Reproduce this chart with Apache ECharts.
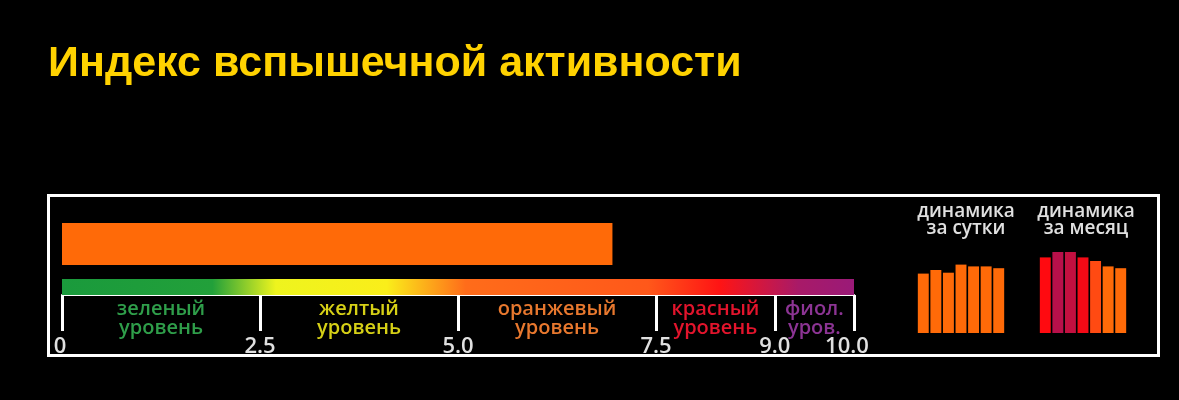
<!DOCTYPE html>
<html><head><meta charset="utf-8">
<script src="https://cdn.jsdelivr.net/npm/echarts@6/dist/echarts.min.js"></script>
<style>html,body{margin:0;padding:0;background:#000;}#c{width:1179px;height:400px;}</style>
</head><body><div id="c"></div>
<script>
// ---- data ----
const titleText = 'Индекс вспышечной активности';
const currentIndex = [6.95];
const scaleMax = [10];
const tickValues = [0, 2.5, 5, 7.5, 9, 10];
const tickLabels = ['0', '2.5', '5.0', '7.5', '9.0', '10.0'];
const levelCenters = [1.25, 3.75, 6.25, 8.25, 9.5];
const levelNames = ['зеленый\nуровень', 'желтый\nуровень', 'оранжевый\nуровень', 'красный\nуровень', 'фиол.\nуров.'];
const levelColors = ['#2f9e4a', '#d6d016', '#e8782e', '#e2142c', '#8c3494'];
const dayTitle = 'динамика\nза сутки';
const monthTitle = 'динамика\nза месяц';
const dayCats = ['1', '2', '3', '4', '5', '6', '7'];
const dayValues = [6.6, 7.0, 6.7, 7.6, 7.4, 7.4, 7.2];
const monthCats = ['1', '2', '3', '4', '5', '6', '7'];
const monthValues = [8.4, 9.0, 9.0, 8.4, 8.0, 7.4, 7.2];
const monthColors = ['#ff0a10', '#b8104a', '#c21040', '#f40a16', '#ff4a12', '#ff6a08', '#ff6a08'];

const chart = echarts.init(document.getElementById('c'), null, {renderer: 'canvas'});
const font = '"Open Sans", sans-serif';
const gradient = new echarts.graphic.LinearGradient(0, 0, 1, 0, [
  {offset: 0, color: '#1a9a3c'},
  {offset: 0.19, color: '#22a03a'},
  {offset: 0.27, color: '#eef41e'},
  {offset: 0.41, color: '#faee1a'},
  {offset: 0.51, color: '#ff6c1a'},
  {offset: 0.74, color: '#ff581a'},
  {offset: 0.83, color: '#ff1414'},
  {offset: 0.93, color: '#a81a68'},
  {offset: 1, color: '#9a1a78'}
]);

function idxOf(arr, v) {
  const n = Number(v);
  for (let i = 0; i < arr.length; i++) { if (Math.abs(arr[i] - n) < 1e-9) return i; }
  return -1;
}

chart.setOption({
  backgroundColor: '#000',
  animation: false,
  title: [
    {text: titleText, left: 43, top: 38, textStyle: {color: '#ffd200', fontSize: 43, fontWeight: 'bold', fontFamily: '"Liberation Sans", Arial, sans-serif'}},
    {text: dayTitle, left: 961, top: 198, textAlign: 'center', textStyle: {color: '#e0e0e0', fontSize: 19, lineHeight: 17, fontWeight: 600, fontFamily: font}},
    {text: monthTitle, left: 1081, top: 198, textAlign: 'center', textStyle: {color: '#e0e0e0', fontSize: 19, lineHeight: 17, fontWeight: 600, fontFamily: font}}
  ],
  graphic: [
    {type: 'rect', shape: {x: 48.5, y: 195.5, width: 1110, height: 160}, style: {fill: 'none', stroke: '#ffffff', lineWidth: 3}, silent: true}
  ],
  grid: [
    {left: 62, top: 223, width: 792, height: 42},
    {left: 62, top: 279, width: 792, height: 16},
    {left: 917, top: 243, width: 88, height: 90},
    {left: 1039, top: 243, width: 88, height: 90}
  ],
  xAxis: [
    {gridIndex: 0, type: 'value', min: 0, max: 10, show: false},
    {gridIndex: 1, type: 'value', min: 0, max: 10, position: 'bottom',
      splitLine: {show: false},
      axisLine: {show: true, lineStyle: {color: '#ffffff', width: 2}},
      axisTick: {show: true, customValues: tickValues, length: 36, lineStyle: {color: '#ffffff', width: 3}},
      axisLabel: {show: true, customValues: tickValues, margin: 41, color: '#e0e0e0', fontSize: 22, fontWeight: 600, fontFamily: font,
        formatter: function (v) {
          const i = idxOf(tickValues, v);
          if (i < 0) return '';
          if (i === 0) return '{l|' + tickLabels[i] + '}';
          if (i === tickValues.length - 1) return '{r|' + tickLabels[i] + '}';
          return tickLabels[i];
        },
        rich: {
          l: {fontSize: 22, fontWeight: 600, fontFamily: font, color: '#e0e0e0', padding: [0, 4, 0, 0]},
          r: {fontSize: 22, fontWeight: 600, fontFamily: font, color: '#e0e0e0', padding: [0, 14, 0, 0]}
        }}
    },
    {gridIndex: 1, type: 'value', min: 0, max: 10, position: 'bottom',
      splitLine: {show: false}, axisLine: {show: false}, axisTick: {show: false},
      axisLabel: {show: true, customValues: levelCenters, margin: 5, fontSize: 20, fontWeight: 600, lineHeight: 19, fontFamily: font,
        color: function (v, i) { const k = idxOf(levelCenters, v); return levelColors[k >= 0 ? k : i] || '#fff'; },
        formatter: function (v) { const i = idxOf(levelCenters, v); return i >= 0 ? levelNames[i] : ''; }}
    },
    {gridIndex: 2, type: 'category', data: dayCats, show: false},
    {gridIndex: 3, type: 'category', data: monthCats, show: false}
  ],
  yAxis: [
    {gridIndex: 0, type: 'category', data: ['index'], show: false},
    {gridIndex: 1, type: 'category', data: ['scale'], show: false},
    {gridIndex: 2, type: 'value', min: 0, max: 10, show: false},
    {gridIndex: 3, type: 'value', min: 0, max: 10, show: false}
  ],
  series: [
    {type: 'bar', xAxisIndex: 0, yAxisIndex: 0, data: currentIndex, barWidth: '100%', itemStyle: {color: '#ff6a08'}},
    {type: 'bar', xAxisIndex: 1, yAxisIndex: 1, data: scaleMax, barWidth: '100%', itemStyle: {color: gradient}},
    {type: 'bar', xAxisIndex: 3, yAxisIndex: 2, data: dayValues, barCategoryGap: '13%', itemStyle: {color: '#ff6a08'}},
    {type: 'bar', xAxisIndex: 4, yAxisIndex: 3, barCategoryGap: '13%',
      data: monthValues.map(function (v, i) { return {value: v, itemStyle: {color: monthColors[i]}}; })}
  ]
});
</script></body></html>
